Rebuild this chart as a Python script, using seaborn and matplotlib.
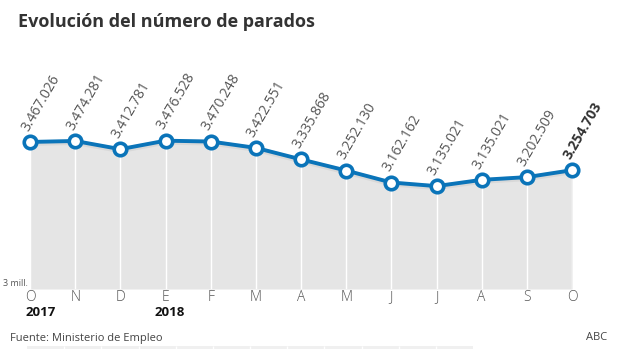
import matplotlib
matplotlib.use("Agg")
import matplotlib.pyplot as plt
import seaborn as sns
import pandas as pd
import numpy as np

months = ["O", "N", "D", "E", "F", "M", "A", "M", "J", "J", "A", "S", "O"]
parados = [3467026, 3474281, 3412781, 3476528, 3470248, 3422551, 3335868,
           3252130, 3162162, 3135021, 3182068, 3202509, 3254703]
labels = ["3.467.026", "3.474.281", "3.412.781", "3.476.528", "3.470.248",
          "3.422.551", "3.335.868", "3.252.130", "3.162.162", "3.135.021",
          "3.135.021", "3.202.509", "3.254.703"]
years = [(0, "2017"), (3, "2018")]

sns.set_style("white")
plt.rcParams["font.family"] = ["Open Sans", "DejaVu Sans"]

W, H = 620, 349
fig = plt.figure(figsize=(W / 100, H / 100), dpi=100)
ax = fig.add_axes([30 / W, (H - 289) / H, (572 - 30) / W, (289 - 40) / H])

df = pd.DataFrame({"idx": np.arange(len(parados)), "v": parados})
ymin, ymax = 2361500, 4233500
ax.set_ylim(ymin, ymax)
ax.set_xlim(0, len(parados) - 1)

ax.fill_between(df["idx"], df["v"], ymin, color="#e5e5e5", zorder=1, linewidth=0)
ax.vlines(df["idx"], ymin, df["v"], color="white", linewidth=1, zorder=2)
# soft shadow under line
ax.plot(df["idx"], np.array(parados) - 9000, color="#cccccc", linewidth=4, alpha=0.5, zorder=2.5)
sns.lineplot(data=df, x="idx", y="v", ax=ax, color="#0a74b9", linewidth=2.8, zorder=3,
             marker="o", markersize=9, markerfacecolor="white", markeredgecolor="#0a74b9",
             markeredgewidth=2.6, clip_on=False)

for i, (v, lab) in enumerate(zip(parados, labels)):
    last = i == len(parados) - 1
    ax.annotate(lab, (i, v), xytext=(1, 6), textcoords="offset points",
                rotation=60, rotation_mode="anchor", ha="left", va="bottom",
                fontsize=10, color="#333333" if last else "#555555",
                fontweight="bold" if last else "normal")

for spine in ax.spines.values():
    spine.set_visible(False)
ax.set_xlabel("")
ax.set_ylabel("")
ax.set_yticks([])
ax.set_xticks(df["idx"])
ax.set_xticklabels(months, fontsize=10, color="#555555", fontweight="light")
ax.tick_params(axis="x", length=0, pad=1)

for i, y in years:
    ax.annotate(y, (i, 0), xycoords=("data", "axes fraction"), xytext=(-3 if i == 0 else -8, -12.5),
                textcoords="offset points", ha="left", va="top", fontsize=9.5,
                fontweight="bold", color="#111111")

fig.text(3 / W, 1 - 284 / H, "3 mill.", fontsize=6.5, color="#555555", ha="left", va="center")
fig.text(18 / W, 1 - 22 / H, "Evolución del número de parados", fontsize=13,
         fontweight="bold", color="#333333", ha="left", va="center")
fig.text(10 / W, 1 - 338 / H, "Fuente: Ministerio de Empleo", fontsize=8, color="#444444",
         ha="left", va="center")
fig.text(607 / W, 1 - 338 / H, "ABC", fontsize=8, color="#444444", ha="right", va="center")

# faint strip at the very bottom (next panel peeking in)
strip = fig.add_axes([27 / W, 0, (473 - 27) / W, 3.5 / H])
strip.set_xlim(0, 12)
strip.set_ylim(0, 1)
strip.add_patch(plt.Rectangle((0, 0), 12, 1, color="#f0f0f0", zorder=0))
strip.vlines(np.arange(1, 12), 0, 1, color="white", linewidth=1)
strip.set_axis_off()

fig.savefig("out.png", dpi=100)
